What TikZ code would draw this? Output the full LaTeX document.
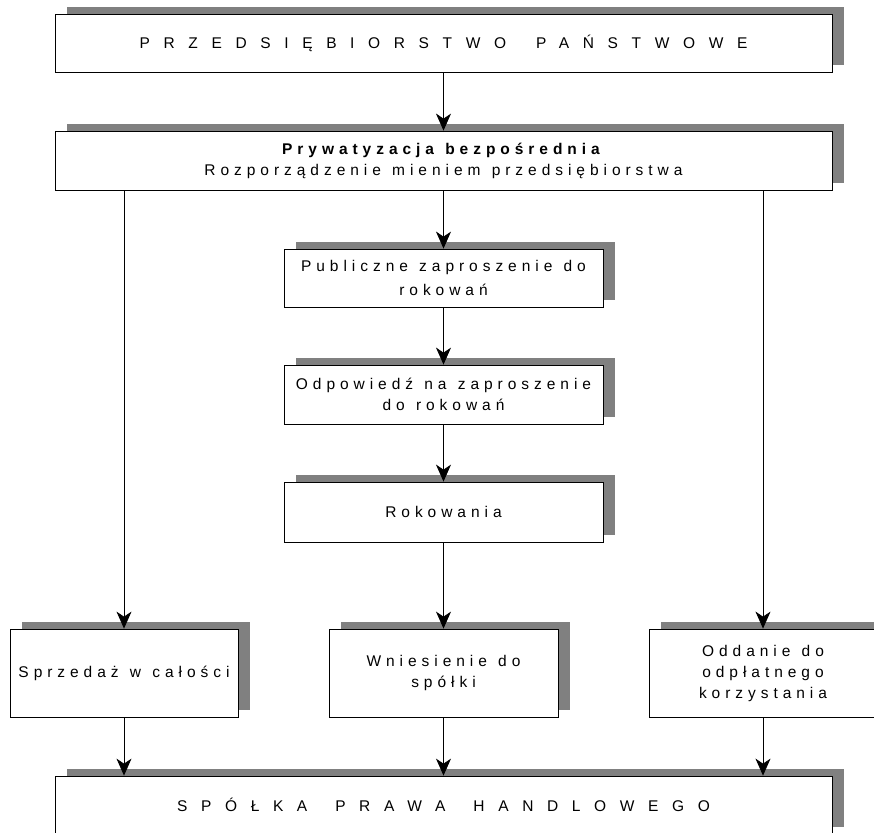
\documentclass[tikz,border=0pt]{standalone}
\usepackage{fontspec}
\setmainfont{Liberation Sans}
\newfontfamily\widefont[LetterSpace=88]{Liberation Sans}
\newfontfamily\spacedfont[LetterSpace=32]{Liberation Sans}
\usetikzlibrary{shadows,arrows.meta}
\definecolor{shadowgray}{RGB}{128,128,128}
\begin{document}
\begin{tikzpicture}[x=1pt,y=-1pt,
  box/.style={draw=black, line width=0.8pt, fill=white, inner sep=0pt, align=center,
    general shadow={fill=shadowgray, shadow xshift=12pt, shadow yshift=7pt},
    font=\spacedfont\fontsize{15.5pt}{21pt}\selectfont},
  widebox/.style={box, minimum width=777pt, font=\widefont\fontsize{15.5pt}{21pt}\selectfont},
  midbox/.style={box, minimum width=319pt},
  lowbox/.style={box, minimum width=228pt, minimum height=88pt},
  arr/.style={draw=black, line width=0.8pt, -{Stealth[length=17pt,width=15pt,inset=5pt]}}
]
\useasboundingbox (0,0) rectangle (874,832);
\clip (0,0) rectangle (874,832);

\node[widebox, minimum height=58pt] (A) at (443.5,43) {PRZEDSIĘBIORSTWO\hspace{12pt} PAŃSTWOWE};
\node[box, minimum width=777pt, minimum height=59pt] (B) at (443.5,160.5)
  {\textbf{Prywatyzacja\hspace{2pt} bezpośrednia}\\Rozporządzenie\hspace{2pt} mieniem\hspace{2pt} przedsiębiorstwa};
\node[midbox, minimum height=58pt, font=\spacedfont\fontsize{15.5pt}{24pt}\selectfont] (C) at (443.5,278)
  {Publiczne\hspace{2pt} zaproszenie\hspace{2pt} do\\rokowań};
\node[midbox, minimum height=59pt] (D) at (443.5,394.5)
  {Odpowiedź\hspace{2pt} na\hspace{2pt} zaproszenie\\do\hspace{2pt} rokowań};
\node[midbox, minimum height=60pt] (E) at (443.5,512) {Rokowania};
\node[lowbox] (F) at (124,673) {Sprzedaż\hspace{2pt} w\hspace{2pt} całości};
\node[lowbox, minimum width=229pt] (G) at (443.5,673) {Wniesienie\hspace{2pt} do\\spółki};
\node[lowbox] (H) at (763,673) {Oddanie\hspace{2pt} do\\odpłatnego\\korzystania};
\node[widebox, minimum height=58pt] (S) at (443.5,805) {SPÓŁKA\hspace{10pt} PRAWA\hspace{10pt} HANDLOWEGO};

\draw[arr] (A.south) -- (B.north);
\draw[arr] (B.south) -- (C.north);
\draw[arr] (C.south) -- (D.north);
\draw[arr] (D.south) -- (E.north);
\draw[arr] (E.south) -- (G.north);
\draw[arr] (F.north |- B.south) -- (F.north);
\draw[arr] (H.north |- B.south) -- (H.north);
\draw[arr] (F.south) -- (F.south |- S.north);
\draw[arr] (G.south) -- (S.north);
\draw[arr] (H.south) -- (H.south |- S.north);
\end{tikzpicture}
\end{document}
